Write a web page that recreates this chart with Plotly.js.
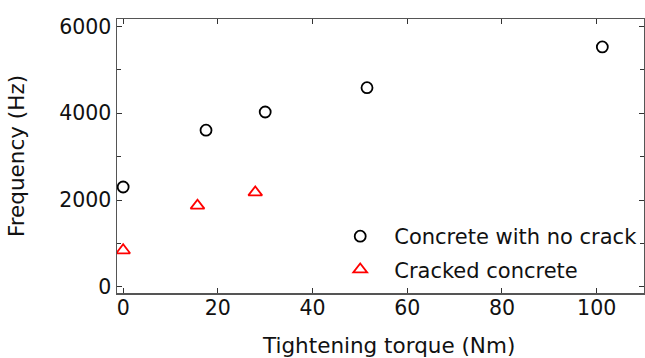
<!DOCTYPE html>
<html>
<head>
<meta charset="utf-8">
<script src="https://cdn.plot.ly/plotly-3.0.1.min.js"></script>
<style>html,body{margin:0;padding:0;background:#fff;}#chart{width:645px;height:358px;}</style>
</head>
<body>
<div id="chart"></div>
<script>
const seriesNames = ["Concrete with no crack", "Cracked concrete"];
const torqueNoCrack = [0, 17.5, 30, 51.5, 101.2];
const freqNoCrack = [2300, 3610, 4030, 4590, 5530];
const torqueCracked = [0, 15.7, 27.9];
const freqCracked = [840, 1870, 2175];
const xTicks = [0, 20, 40, 60, 80, 100];
const yTicks = [0, 2000, 4000, 6000];
const xTitle = "Tightening torque (Nm)";
const yTitle = "Frequency (Hz)";

const FONT = "DejaVu Sans, Verdana, sans-serif";

const traces = [
  {
    x: torqueNoCrack, y: freqNoCrack, name: seriesNames[0], mode: "markers", type: "scatter",
    legendgroup: "a",
    marker: {symbol: "circle-open", size: 11, color: "#000", line: {width: 1.8, color: "#000"}}
  },
  {
    x: torqueCracked, y: freqCracked, name: seriesNames[1], mode: "markers", type: "scatter",
    legendgroup: "b",
    marker: {symbol: "triangle-up-open", size: 12, color: "#ff0000", line: {width: 1.8, color: "#ff0000"}}
  }
];

const axisCommon = {
  showgrid: false, zeroline: false, showline: true, linecolor: "#555", linewidth: 1.5,
  mirror: "ticks", ticks: "inside", ticklen: 5, tickwidth: 1, tickcolor: "#333",
  tickfont: {family: FONT, size: 20.5, color: "#111"}
};

const layout = {
  width: 645, height: 358,
  margin: {l: 117, r: 1, t: 19, b: 65},
  paper_bgcolor: "#fff", plot_bgcolor: "#fff",
  font: {family: FONT, size: 20, color: "#111"},
  showlegend: true,
  legend: {
    x: 0.397, xanchor: "left", y: 0.281, yanchor: "top",
    bgcolor: "rgba(0,0,0,0)", borderwidth: 0,
    itemwidth: 58, tracegroupgap: 3, traceorder: "grouped",
    font: {family: FONT, size: 21, color: "#111"}
  },
  xaxis: Object.assign({}, axisCommon, {
    range: [-1.3, 110], tickvals: xTicks, ticktext: xTicks.map(String),
    ticklabelstandoff: -4
  }),
  yaxis: Object.assign({}, axisCommon, {
    range: [-145, 6175], tickvals: yTicks, ticktext: yTicks.map(String),
    minor: {ticks: "inside", dtick: 1000, ticklen: 4, tickcolor: "#333"},
    title: {text: yTitle, font: {family: FONT, size: 21.5, color: "#111"}, standoff: 28}
  }),
  annotations: [
    {text: xTitle, xref: "paper", yref: "paper", x: 0.516, y: -0.19, xanchor: "center", yanchor: "middle",
     showarrow: false, font: {family: FONT, size: 21.5, color: "#111"}}
  ]
};

Plotly.newPlot("chart", traces, layout, {displayModeBar: false, staticPlot: true});
</script>
</body>
</html>
